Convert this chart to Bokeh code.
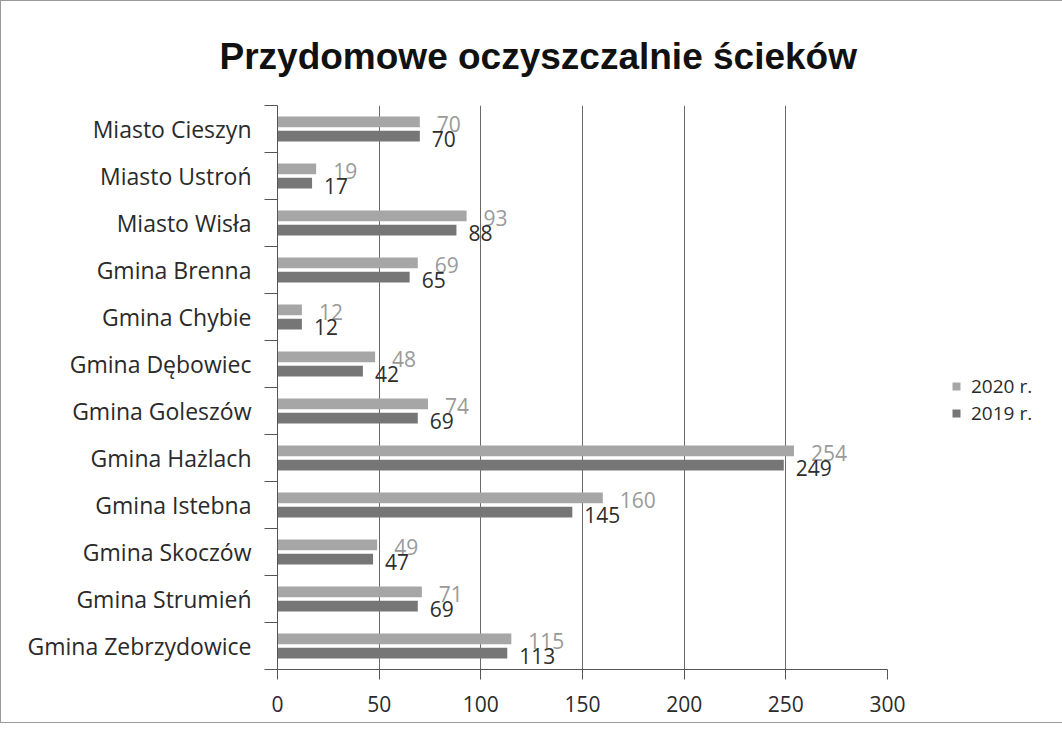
from bokeh.plotting import figure
from bokeh.models import (Range1d, FixedTicker, Legend, LegendItem, ColumnDataSource)
from bokeh.core.properties import value
from bokeh.embed import file_html
from bokeh.resources import INLINE

categories = ["Miasto Cieszyn", "Miasto Ustroń", "Miasto Wisła", "Gmina Brenna",
              "Gmina Chybie", "Gmina Dębowiec", "Gmina Goleszów", "Gmina Hażlach",
              "Gmina Istebna", "Gmina Skoczów", "Gmina Strumień", "Gmina Zebrzydowice"]
values_2020 = [70, 19, 93, 69, 12, 48, 74, 254, 160, 49, 71, 115]
values_2019 = [70, 17, 88, 65, 12, 42, 69, 249, 145, 47, 69, 113]
series_names = ["2020 r.", "2019 r."]
x_ticks = [0, 50, 100, 150, 200, 250, 300]

FONT = "Open Sans"
n = len(categories)
centers = [n - 0.5 - i for i in range(n)]

src20 = ColumnDataSource(dict(y=[c + 0.15 for c in centers], v=values_2020,
                              t=[str(v) for v in values_2020]))
src19 = ColumnDataSource(dict(y=[c - 0.15 for c in centers], v=values_2019,
                              t=[str(v) for v in values_2019]))

p = figure(output_backend="svg", toolbar_location=None,
           frame_width=610, frame_height=564,
           x_range=Range1d(0, 300), y_range=Range1d(0, n),
           min_border_left=276, min_border_right=160, min_border_top=104, min_border_bottom=53)
p.outline_line_color = None
p.background_fill_color = "white"
p.border_fill_color = "white"

r20 = p.hbar(y="y", right="v", left=0, height=0.23, source=src20, fill_color="#a6a6a6", line_color=None)
r19 = p.hbar(y="y", right="v", left=0, height=0.23, source=src19, fill_color="#767676", line_color=None)

p.text(x="v", y="y", text="t", source=src20, x_offset=17, y_offset=2,
       text_font=value(FONT), text_font_size="21px", text_color="#9a9a9a",
       text_baseline="middle", text_align="left")
p.text(x="v", y="y", text="t", source=src19, x_offset=12, y_offset=3,
       text_font=value(FONT), text_font_size="21px", text_color="#2e2e2e",
       text_baseline="middle", text_align="left")

# x axis
p.xaxis.ticker = FixedTicker(ticks=x_ticks)
p.xaxis.major_label_text_font = FONT
p.xaxis.major_label_text_font_size = "21px"
p.xaxis.major_label_text_color = "#2a2a2a"
p.xaxis.axis_line_color = "#555555"
p.xaxis.major_tick_line_color = "#555555"
p.xaxis.major_tick_out = 10
p.xaxis.major_tick_in = 0
p.xaxis.minor_tick_line_color = None
p.xaxis.major_label_standoff = 16

# y axis
p.yaxis.ticker = FixedTicker(ticks=centers, minor_ticks=[float(i) for i in range(n + 1)])
p.yaxis.major_label_overrides = {c: cat for c, cat in zip(centers, categories)}
p.yaxis.major_label_text_font = FONT
p.yaxis.major_label_text_font_size = "23px"
p.yaxis.major_label_text_color = "#2a2a2a"
p.yaxis.axis_line_color = "#555555"
p.yaxis.major_tick_line_color = None
p.yaxis.major_tick_out = 0
p.yaxis.minor_tick_line_color = "#555555"
p.yaxis.minor_tick_out = 13
p.yaxis.minor_tick_in = 0
p.yaxis.major_label_standoff = 13

p.xgrid.ticker = FixedTicker(ticks=x_ticks[1:])
p.xgrid.grid_line_color = "#6a6a6a"
p.xgrid.grid_line_width = 1
p.ygrid.grid_line_color = None

p.title.text = "Przydomowe oczyszczalnie ścieków"
p.title.align = "left"
p.title.offset = -58
p.title.standoff = 58
p.title.text_font = "Liberation Sans"
p.title.text_font_style = "bold"
p.title.text_font_size = "37px"
p.title.text_color = "#111111"

legend = Legend(items=[LegendItem(label=series_names[0], renderers=[r20]),
                       LegendItem(label=series_names[1], renderers=[r19])],
                location=(64, 243), orientation="vertical",
                label_text_font=FONT, label_text_font_size="19px",
                label_text_color="#2a2a2a", glyph_width=10, glyph_height=10,
                label_standoff=10, spacing=1, padding=0, margin=0,
                border_line_color=None, background_fill_alpha=0)
p.add_layout(legend, "right")

p.styles = {"border": "1px solid #9a9a9a"}

open("out.html", "w").write(file_html(p, INLINE))
